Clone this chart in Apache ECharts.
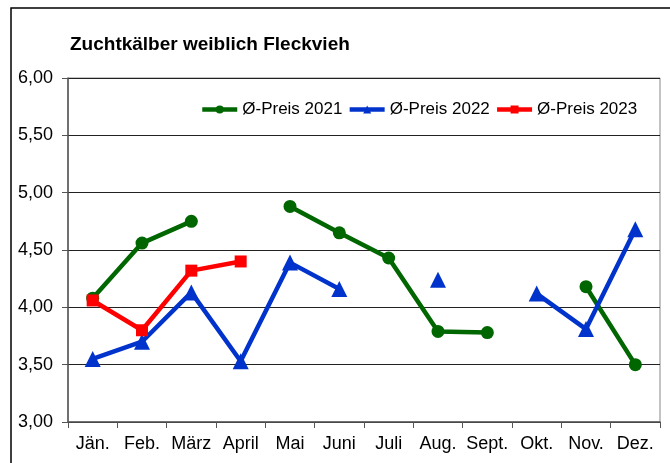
<!DOCTYPE html>
<html><head><meta charset="utf-8">
<script src="https://cdn.jsdelivr.net/npm/echarts@6/dist/echarts.min.js"></script>
<style>html,body{margin:0;padding:0;background:#fff}#c{width:670px;height:463px}</style>
</head><body><div id="c"></div>
<script>
const categories = ['Jän.','Feb.','März','April','Mai','Juni','Juli','Aug.','Sept.','Okt.','Nov.','Dez.'];
const preis2021 = [4.08, 4.56, 4.75, null, 4.88, 4.65, 4.43, 3.79, 3.78, null, 4.18, 3.50];
const preis2022 = [3.55, 3.70, 4.13, 3.53, 4.39, 4.16, null, 4.24, null, 4.12, 3.81, 4.68];
const preis2023 = [4.06, 3.80, 4.32, 4.40, null, null, null, null, null, null, null, null];
const seriesNames = ['Ø-Preis 2021','Ø-Preis 2022','Ø-Preis 2023'];
const font = '"Liberation Sans", Arial, sans-serif';
const chart = echarts.init(document.getElementById('c'));
function mk(name, data, color, symbol, size) {
  return {name, type:'line', data, connectNulls:false, symbol, symbolSize:size,
    lineStyle:{color, width:4.5}, itemStyle:{color}, showAllSymbol:true, animation:false};
}
chart.setOption({
  animation:false,
  graphic:[{type:'rect', shape:{x:11, y:8, width:680, height:480}, style:{fill:'none', stroke:'#000', lineWidth:1.5}}],
  title:{text:'Zuchtkälber weiblich Fleckvieh', left:65, top:30,
    textStyle:{fontFamily:font, fontSize:19, fontWeight:'bold', color:'#000'}},
  legend:{top:96, left:195, itemWidth:35, itemHeight:10, itemGap:5,
    lineStyle:{width:4.5},
    textStyle:{fontFamily:font, fontSize:17, color:'#000'}, data:seriesNames},
  grid:{left:68, right:10, top:78, bottom:41, show:true, borderColor:'#888', borderWidth:1},
  xAxis:{type:'category', data:categories, boundaryGap:true,
    axisLine:{lineStyle:{color:'#555', width:1.5}},
    axisTick:{show:true, length:6, lineStyle:{color:'#555'}},
    axisLabel:{fontFamily:font, fontSize:18, color:'#000', margin:13, interval:0}},
  yAxis:{type:'value', min:3, max:6, interval:0.5,
    axisLine:{show:true, lineStyle:{color:'#555', width:1.5}},
    axisTick:{show:true, length:6, lineStyle:{color:'#555'}},
    axisLabel:{fontFamily:font, fontSize:18, color:'#000', margin:15,
      formatter:v=>v.toFixed(2).replace('.',',')},
    splitLine:{lineStyle:{color:'#222', width:1}}},
  series:[
    mk(seriesNames[0], preis2021, '#006600', 'circle', 13),
    mk(seriesNames[1], preis2022, '#0033cc', 'triangle', 16),
    mk(seriesNames[2], preis2023, '#ff0000', 'rect', 12)
  ]
});
</script></body></html>
